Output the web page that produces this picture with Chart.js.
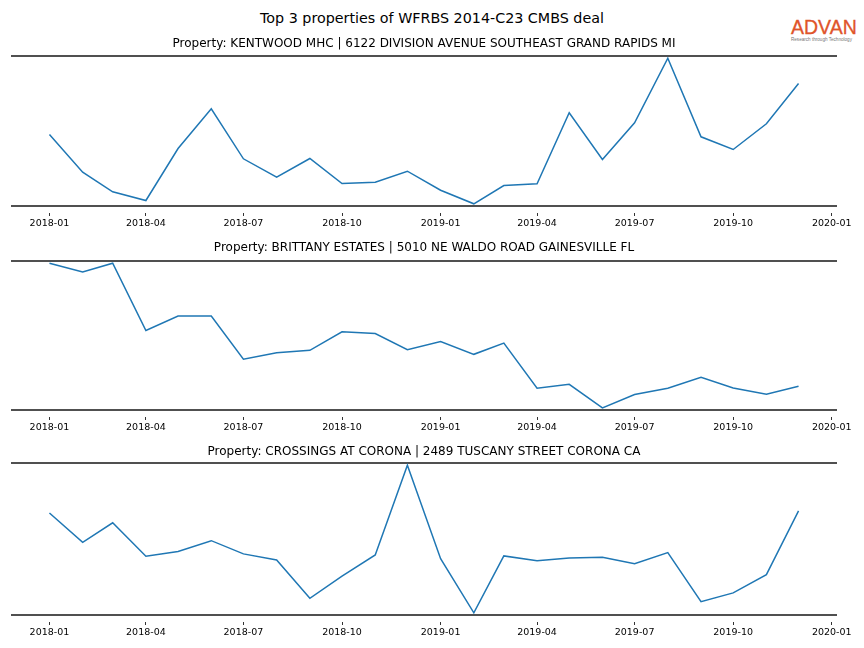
<!DOCTYPE html>
<html>
<head>
<meta charset="utf-8">
<script src="https://cdn.jsdelivr.net/npm/chart.js@4/dist/chart.umd.min.js"></script>
<style>
  body { margin: 0; background: #fff; width: 864px; height: 648px; position: relative; overflow: hidden; font-family: 'DejaVu Sans', sans-serif; }
  canvas { position: absolute; left: 0; }
  #suptitle { position: absolute; left: 0; width: 864px; top: 10px; text-align: center; font-size: 14.3px; color: #000; }
  #logo { position: absolute; left: 791px; top: 16px; font-family: 'Liberation Sans', sans-serif; }
  #logo .name { font-size: 19.5px; color: #e0542a; line-height: 22px; -webkit-text-stroke: 0.3px #e0542a; }
  #logo .tag { font-size: 4.6px; color: #777; line-height: 6px; margin-top: -1px; }
</style>
</head>
<body>
<div id="suptitle">Top 3 properties of WFRBS 2014-C23 CMBS deal</div>
<div id="logo"><div class="name">ADVAN</div><div class="tag">Research through Technology</div></div>
<canvas id="chart1" width="864" height="206" style="top:30px"></canvas>
<canvas id="chart2" width="864" height="205" style="top:235px"></canvas>
<canvas id="chart3" width="864" height="208" style="top:437px"></canvas>
<script>
months = ['2018-01','2018-02','2018-03','2018-04','2018-05','2018-06','2018-07','2018-08','2018-09','2018-10','2018-11','2018-12',
          '2019-01','2019-02','2019-03','2019-04','2019-05','2019-06','2019-07','2019-08','2019-09','2019-10','2019-11','2019-12'];
tickLabels = ['2018-01','2018-04','2018-07','2018-10','2019-01','2019-04','2019-07','2019-10','2020-01'];

kentwood = [710, 333, 137, 50, 570, 967, 467, 283, 470, 220, 233, 343, 153, 17, 200, 217, 927, 460, 827, 1473, 687, 560, 817, 1220];
brittany = [1473, 1383, 1473, 793, 940, 940, 503, 570, 593, 780, 763, 600, 683, 553, 667, 210, 250, 13, 147, 210, 320, 213, 150, 230];
crossings = [1020, 730, 923, 593, 640, 747, 617, 557, 180, 397, 607, 1490, 570, 37, 597, 550, 577, 583, 520, 630, 147, 233, 413, 1040];

titles = [
    'Property: KENTWOOD MHC | 6122 DIVISION AVENUE SOUTHEAST GRAND RAPIDS MI',
    'Property: BRITTANY ESTATES | 5010 NE WALDO ROAD GAINESVILLE FL',
    'Property: CROSSINGS AT CORONA | 2489 TUSCANY STREET CORONA CA'
];

Chart.defaults.font.family = "'DejaVu Sans', sans-serif";
Chart.defaults.color = '#000000';

function dayNum(m) {
    return Date.UTC(+m.slice(0, 4), +m.slice(5, 7) - 1, 1) / 86400000;
}

// matplotlib-like 5% x margins
const xFirst = dayNum(months[0]), xLast = dayNum(months[months.length - 1]);
const xMin = xFirst - 0.05 * (xLast - xFirst), xMax = xLast + 0.05 * (xLast - xFirst);
const spineColor = '#505050';

function makeChart(id, title, values, titlePad) {
    const lo = Math.min(...values), hi = Math.max(...values), pad = 0.015 * (hi - lo);
    return new Chart(document.getElementById(id).getContext('2d'), {
        type: 'line',
        data: {
            datasets: [{
                data: months.map((m, i) => ({ x: dayNum(m), y: values[i] })),
                borderColor: '#1f77b4', borderWidth: 1.5, pointRadius: 0, tension: 0, fill: false
            }]
        },
        options: {
            responsive: false,
            animation: false,
            layout: { padding: { left: 12, right: 28, top: 0, bottom: 0 } },
            plugins: {
                legend: { display: false },
                tooltip: { enabled: false },
                title: { display: true, text: title, color: '#000', font: { size: 12, weight: 'normal' }, padding: titlePad }
            },
            scales: {
                x: {
                    type: 'linear', position: 'bottom', min: xMin, max: xMax,
                    afterBuildTicks: axis => { axis.ticks = tickLabels.map(t => ({ value: dayNum(t) })); },
                    afterFit: axis => { axis.height = 30; },
                    ticks: { autoSkip: false, maxRotation: 0, padding: 2, font: { size: 9.5 }, color: '#000',
                             callback: (v, i) => tickLabels[i] },
                    grid: { drawOnChartArea: false, drawTicks: true, tickLength: 10, tickColor: '#333', lineWidth: 1,
                            tickBorderDash: [4, 6], tickBorderDashOffset: 4 },
                    border: { display: true, color: spineColor, width: 2 }
                },
                xTop: {
                    type: 'linear', position: 'top', min: xMin, max: xMax,
                    ticks: { display: false },
                    grid: { display: false, drawTicks: false },
                    border: { display: true, color: spineColor, width: 2 }
                },
                y: { display: false, min: lo - pad, max: hi + pad }
            }
        }
    });
}

chart1 = makeChart('chart1', titles[0], kentwood, { top: 6.5, bottom: 5.1 });
chart2 = makeChart('chart2', titles[1], brittany, { top: 5.5, bottom: 6.1 });
chart3 = makeChart('chart3', titles[2], crossings, { top: 8, bottom: 3.6 });
</script>
</body>
</html>
